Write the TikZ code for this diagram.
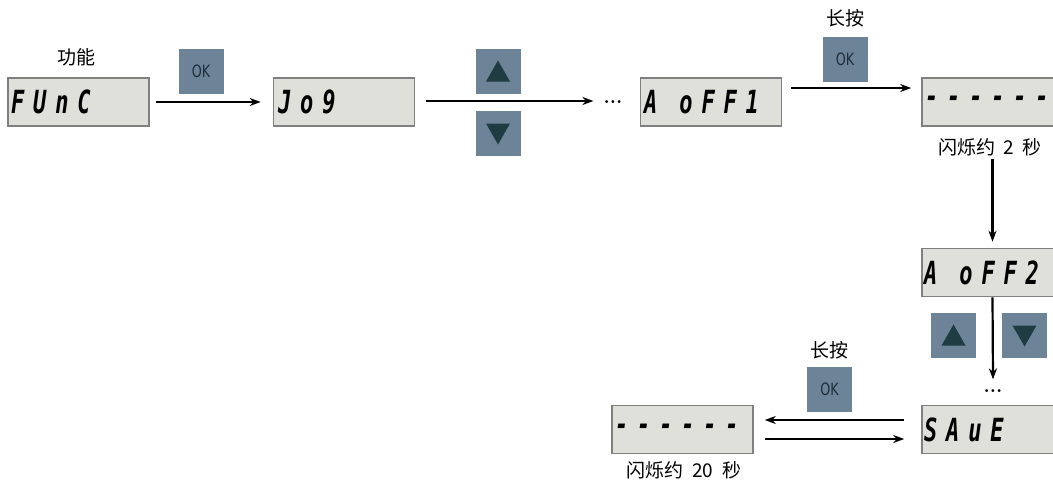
\documentclass[tikz,border=0pt]{standalone}
\usepackage{fontspec}
\usepackage{graphicx}
\usetikzlibrary{arrows.meta}
\newfontfamily\cjk{Noto Sans CJK SC}
\newfontfamily\segfont[LetterSpace=40]{DejaVu Sans Mono Bold Oblique}
\newfontfamily\okfont{DejaVu Sans}
\definecolor{dispfill}{HTML}{E0E0DA}
\definecolor{displine}{HTML}{808080}
\definecolor{btnfill}{HTML}{6D8398}
\definecolor{trifill}{HTML}{1F3C42}
\definecolor{oktext}{HTML}{1E2F3C}
\tikzset{
  disp/.style={draw=displine, line width=1.6pt, fill=dispfill, minimum width=141pt, minimum height=48pt, inner sep=0pt},
  segtxt/.style={anchor=west, inner sep=0pt, font=\segfont\fontsize{22}{22}\selectfont},
  btn/.style={fill=btnfill, minimum width=45pt, minimum height=45pt, inner sep=0pt},
  arr/.style={line width=2.2pt, -{Stealth[length=11pt,width=8pt]}},
  lbl/.style={font=\cjk\fontsize{19}{19}\selectfont, inner sep=0pt},
  dotlbl/.style={inner sep=0pt, font=\bfseries\fontsize{20}{20}\selectfont},
}
\newcommand{\segs}[1]{\scalebox{1}[1.45]{#1}}
\newcommand{\oklabel}{\okfont\color{oktext}\fontsize{17}{17}\selectfont\scalebox{0.75}[1]{OK}}
\begin{document}
\begin{tikzpicture}[x=1pt,y=-1pt]
\useasboundingbox (0,0) rectangle (1053,485);
\clip (0,0) rectangle (1053,485);
% displays
\node[disp] (func) at (78.5,102) {};
\node[segtxt] at (11,102) {\segs{FUnC}};
\node[disp] (jog) at (344,102) {};
\node[segtxt] at (278,102) {\segs{Jo9}};
\node[disp] (aoff) at (711,102) {};
\node[segtxt] at (644,102) {\segs{A oFF1}};
\node[disp] (dash1) at (992.5,102) {};
\node[segtxt] at (925,102) {\segs{------}};
\node[disp] (aoff2) at (992.5,272.5) {};
\node[segtxt] at (924,272.5) {\segs{A oFF2}};
\node[disp] (save) at (992.5,429.5) {};
\node[segtxt] at (924,429.5) {\segs{SAuE}};
\node[disp] (dash2) at (682.5,429.5) {};
\node[segtxt] at (615,429.5) {\segs{------}};
% buttons
\node[btn] (ok1) at (201,71.5) {\oklabel};
\node[btn] (up1) at (498,71.5) {};
\node[btn] (dn1) at (498,133.5) {};
\node[btn] (ok2) at (845,59.5) {\oklabel};
\node[btn] (up2) at (953.5,335.5) {};
\node[btn] (dn2) at (1024.5,335.5) {};
\node[btn] (ok3) at (829.5,389.5) {\oklabel};
% triangles
\fill[trifill] (up1.center) ++(0,-11) -- ++(12,21) -- ++(-24,0) -- cycle;
\fill[trifill] (dn1.center) ++(0,11) -- ++(12,-21) -- ++(-24,0) -- cycle;
\fill[trifill] (up2.center) ++(0,-11) -- ++(12,21) -- ++(-24,0) -- cycle;
\fill[trifill] (dn2.center) ++(0,11) -- ++(12,-21) -- ++(-24,0) -- cycle;
% labels
\node[lbl] (l1) at (76,57) {功能};
\node[lbl] (l2) at (845,18) {长按};
\node[lbl] (l3) at (990,147) {闪烁约\ \ 2\ \ 秒};
\node[lbl] (l4) at (829,350) {长按};
\node[lbl] (l5) at (684,470) {闪烁约\ \ 20\ \ 秒};
\node[dotlbl] (dots1) at (613,102) {...};
\node[dotlbl] (dots2) at (993,391) {...};
% arrows
\draw[arr] ([xshift=6pt]func.east) -- ([xshift=-12pt]jog.west);
\draw[arr] ([xshift=11pt,yshift=1pt]jog.east) -- ([xshift=-10pt,yshift=1pt]jog.east -| dots1.west);
\draw[arr] ([xshift=9pt,yshift=14pt]aoff.east) -- ([xshift=-10pt,yshift=14pt]dash1.west);
\draw[arr] ([yshift=-3pt]l3.south -| aoff2.north) -- ([yshift=6pt]aoff2.north);
\draw[arr] (aoff2.south) -- ([yshift=10pt]dots2.north);
\draw[arr] ([xshift=-17pt,yshift=9.5pt]save.west) -- ([xshift=11pt,yshift=9.5pt]dash2.east);
\draw[arr] ([xshift=11pt,yshift=-9.5pt]dash2.east) -- ([xshift=-17pt,yshift=-9.5pt]save.west);
\end{tikzpicture}
\end{document}
